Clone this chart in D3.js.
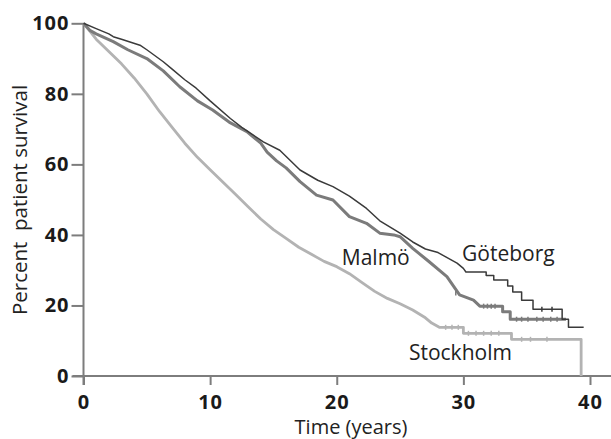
<!DOCTYPE html>
<html>
<head>
<meta charset="utf-8">
<script src="https://cdn.jsdelivr.net/npm/d3@7"></script>
<style>
  html, body { margin: 0; padding: 0; background: #fff; }
  svg { display: block; }
  text { font-family: "Open Sans", sans-serif; }
</style>
</head>
<body>
<svg id="chart" width="611" height="439"></svg>
<script>
// ---- data ----
const xTicks = [0, 10, 20, 30, 40];
const yTicks = [0, 20, 40, 60, 80, 100];

const seriesNames = ["Göteborg", "Malmö", "Stockholm"];

// Kaplan-Meier curves: time (years) and percent survival
const goteborgTime = [0, 1, 2, 2.35, 3, 4.46, 5, 6.3, 7, 8, 8.9, 10, 11.6, 12.5, 14.2, 15.5, 17.1, 18.5, 19.7, 21, 22.35, 23.4, 25, 26, 27, 28, 28.5, 29, 29.5, 30, 30.2, 31.8, 31.8, 32.4, 32.4, 33.5, 33.5, 33.9, 33.9, 34.6, 34.6, 35.5, 35.5, 37.8, 37.8, 38.3, 38.3, 39.5];
const goteborgSurv = [100, 98.5, 97, 96.2, 95.5, 93.8, 92.5, 89.1, 87, 84, 81.6, 78, 73, 70.5, 66.4, 64, 58.4, 55.5, 53.7, 51, 47.5, 44, 40.5, 38, 36, 35, 34, 33, 32, 30.5, 29.5, 29.5, 28.5, 28.5, 27.2, 27.2, 25.5, 25.5, 23.8, 23.8, 21.5, 21.5, 18.9, 18.9, 16.1, 16.1, 13.8, 13.8];

const malmoTime = [0, 0.5, 1, 2.35, 3.5, 5, 6.3, 7.6, 9, 10.2, 11.5, 12.9, 14, 14.5, 15.25, 16, 17.1, 18.4, 19.7, 21, 22.35, 23.4, 24.5, 25, 26, 27.3, 28.7, 29.7, 30.8, 31.3, 33.1, 33.1, 33.7, 33.7, 38.1];
const malmoSurv = [100, 98, 97, 94.8, 92.5, 90, 86.5, 82, 78, 75.4, 72, 69.3, 66, 63.5, 61, 59, 55.1, 51.3, 49.9, 45.2, 43.3, 40.5, 40, 39.5, 36.2, 32.4, 28.2, 23, 21.5, 19.8, 19.8, 18.2, 18.2, 16.1, 16.1];

const stockholmTime = [0, 0.5, 1, 2, 3, 4, 5, 6, 7, 8, 9, 10, 11, 12, 13, 14, 15, 16, 17, 18, 19, 20, 21, 22, 23, 24, 25, 26, 27, 27.5, 28.1, 30.0, 30.0, 33.8, 33.8, 39.3, 39.3];
const stockholmSurv = [100, 97.8, 95.5, 92, 88.5, 84.5, 80, 75, 70.5, 66, 62, 58.5, 55, 51.5, 48, 44.5, 41.5, 39, 36.5, 34.5, 32.5, 31, 29, 26.5, 24, 22, 20.5, 18.7, 16.5, 15, 13.8, 13.8, 12.1, 12.1, 10.4, 10.4, 0];

// censoring marks (time, percent)
const goteborgCensorTime = [36.2, 37.0];
const goteborgCensorSurv = [18.9, 18.9];
const malmoCensorTime = [29.4, 31.6, 31.9, 32.2, 32.5, 34.2, 34.6, 35.1, 35.8, 36.3, 36.9, 37.4];
const malmoCensorSurv = [23.5, 19.8, 19.8, 19.8, 19.8, 16.1, 16.1, 16.1, 16.1, 16.1, 16.1, 16.1];
const stockholmCensorTime = [28.6, 29.1, 29.6, 30.4, 31.0, 31.6, 32.2, 32.8, 34.6, 35.3, 36.6];
const stockholmCensorSurv = [13.8, 13.8, 13.8, 12.1, 12.1, 12.1, 12.1, 12.1, 10.4, 10.4, 10.4];

// label anchors (time, percent)
const labelTime = [29.9, 20.4, 25.7];
const labelSurv = [32.5, 31.5, 4.5];

// ---- drawing ----
const svg = d3.select("#chart");
const x = d3.scaleLinear().domain([0, 40]).range([83.5, 590]);
const y = d3.scaleLinear().domain([0, 100]).range([376, 23.3]);

const axisColor = "#7d7d7d";

// x axis
const xAxis = svg.append("g")
  .attr("transform", `translate(0,${y(0)})`)
  .call(d3.axisBottom(x).tickValues(xTicks).tickSize(9).tickPadding(10).tickSizeOuter(0));
xAxis.select(".domain").remove();
xAxis.append("line")
  .attr("x1", x(0) - 11).attr("x2", 611)
  .attr("stroke", axisColor).attr("stroke-width", 2);
xAxis.selectAll(".tick line").attr("stroke", axisColor).attr("stroke-width", 2);
xAxis.selectAll(".tick text")
  .attr("fill", "#1a1a1a").attr("font-size", 20).attr("font-weight", "bold")
  .style("letter-spacing", "1px");

// y axis
const yAxis = svg.append("g")
  .attr("transform", `translate(${x(0)},0)`)
  .call(d3.axisLeft(y).tickValues(yTicks).tickSize(12).tickPadding(2).tickSizeOuter(0));
yAxis.select(".domain").remove();
yAxis.append("line")
  .attr("y1", y(100)).attr("y2", y(0) + 9)
  .attr("stroke", axisColor).attr("stroke-width", 2);
yAxis.selectAll(".tick line").attr("stroke", axisColor).attr("stroke-width", 2);
yAxis.selectAll(".tick text")
  .attr("fill", "#1a1a1a").attr("font-size", 20).attr("font-weight", "bold")
  .style("letter-spacing", "1px");

// axis titles
svg.append("text")
  .attr("transform", `translate(26.5,200) rotate(-90)`)
  .attr("text-anchor", "middle")
  .attr("font-size", 20.5)
  .attr("fill", "#222")
  .style("white-space", "pre")
  .text("Percent  patient survival");

svg.append("text")
  .attr("x", 351).attr("y", 433.5)
  .attr("text-anchor", "middle")
  .attr("font-size", 20)
  .attr("fill", "#222")
  .text("Time (years)");

// curves
const line = d3.line().x(d => x(d[0])).y(d => y(d[1]));
const series = [
  { t: stockholmTime, s: stockholmSurv, ct: stockholmCensorTime, cs: stockholmCensorSurv, color: "#b3b3b3", w: 2.8 },
  { t: malmoTime, s: malmoSurv, ct: malmoCensorTime, cs: malmoCensorSurv, color: "#7b7b7b", w: 3 },
  { t: goteborgTime, s: goteborgSurv, ct: goteborgCensorTime, cs: goteborgCensorSurv, color: "#3a3a3a", w: 1.5 }
];
series.forEach(sr => {
  const pts = sr.t.map((t, i) => [t, sr.s[i]]);
  svg.append("path")
    .datum(pts)
    .attr("d", line)
    .attr("fill", "none")
    .attr("stroke", sr.color)
    .attr("stroke-width", sr.w)
    .attr("stroke-linejoin", "round");
  svg.append("g").selectAll("line")
    .data(sr.ct.map((t, i) => [t, sr.cs[i]]))
    .join("line")
    .attr("x1", d => x(d[0])).attr("x2", d => x(d[0]))
    .attr("y1", d => y(d[1]) - 2.5).attr("y2", d => y(d[1]) + 2.5)
    .attr("stroke", sr.color).attr("stroke-width", 1.5);
});

// series labels
svg.append("g").selectAll("text")
  .data(seriesNames)
  .join("text")
  .attr("x", (d, i) => x(labelTime[i]))
  .attr("y", (d, i) => y(labelSurv[i]))
  .attr("font-size", 21)
  .attr("fill", "#222")
  .text(d => d);
</script>
</body>
</html>
